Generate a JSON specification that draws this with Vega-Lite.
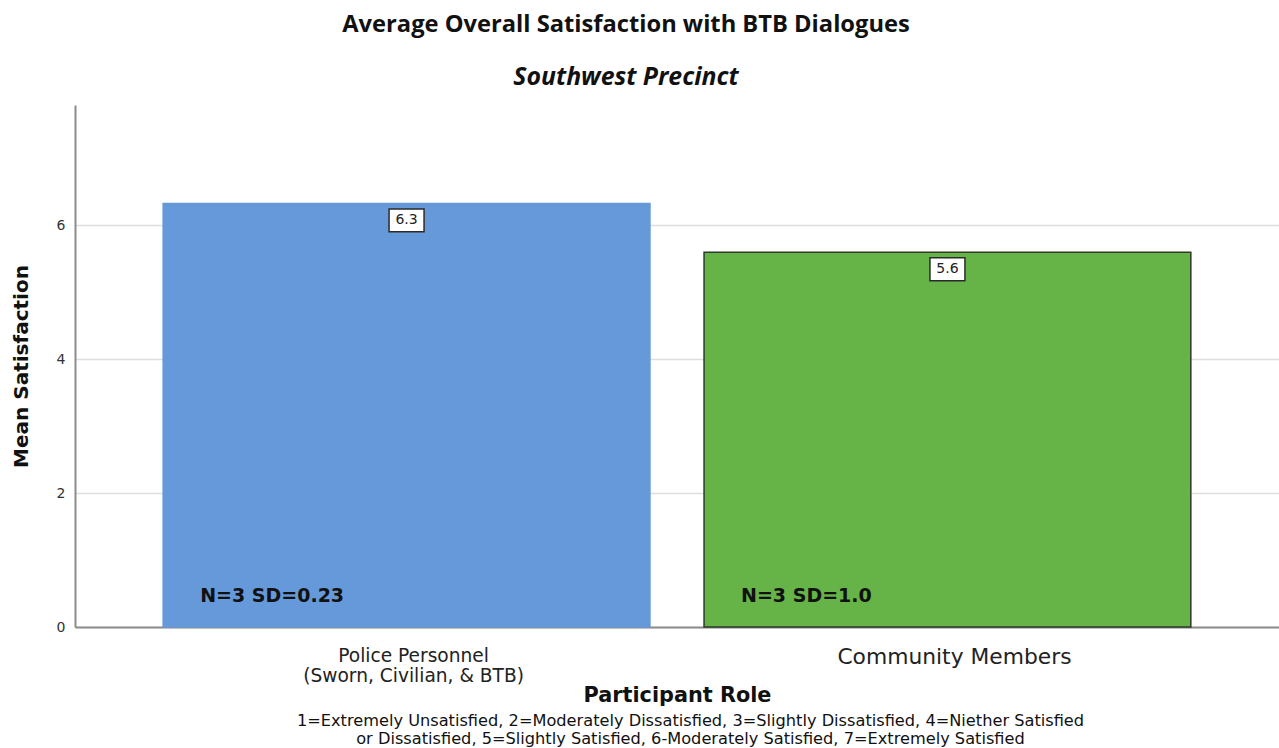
{
  "$schema": "https://vega.github.io/schema/vega-lite/v6.json",
  "width": 1204,
  "height": 522,
  "autosize": "none",
  "padding": {"left": 75, "top": 105, "right": 0, "bottom": 121},
  "background": "white",
  "title": {
    "text": "Average Overall Satisfaction with BTB Dialogues",
    "subtitle": "Southwest Precinct",
    "anchor": "middle",
    "dx": -51,
    "offset": 15,
    "font": "Open Sans",
    "fontSize": 23.7,
    "fontWeight": "bold",
    "color": "#111111",
    "subtitleFont": "Open Sans",
    "subtitleFontSize": 24.8,
    "subtitleFontWeight": "bold",
    "subtitleFontStyle": "italic",
    "subtitleColor": "#111111",
    "subtitlePadding": 29
  },
  "data": {
    "values": [
      {"role": "Police Personnel (Sworn, Civilian, & BTB)", "mean": 6.33, "stats": "N=3 SD=0.23"},
      {"role": "Community Members", "mean": 5.6, "stats": "N=3 SD=1.0"}
    ]
  },
  "resolve": {"axis": {"x": "independent"}},
  "layer": [
    {
      "mark": {"type": "bar", "strokeWidth": 1.5},
      "encoding": {
        "x": {
          "field": "role", "type": "nominal", "sort": null,
          "scale": {"paddingInner": 0.1, "paddingOuter": 0.163},
          "axis": {
            "orient": "bottom",
            "title": "Participant Role",
            "titleFont": "DejaVu Sans",
            "titleFontSize": 20.8,
            "titleFontWeight": "bold",
            "titleColor": "#111111",
            "titlePadding": 1,
            "labelAngle": 0,
            "labelFont": "DejaVu Sans",
            "labelFontSize": {"condition": {"test": "datum.value === 'Community Members'", "value": 21.8}, "value": 18.6},
            "labelColor": "#222222",
            "labelPadding": 19,
            "labelLineHeight": 20,
            "labelLimit": 0,
            "labelOffset": 7,
            "labelExpr": "datum.value === 'Police Personnel (Sworn, Civilian, & BTB)' ? ['Police Personnel', '(Sworn, Civilian, & BTB)'] : datum.value",
            "ticks": false,
            "domainColor": "#8c8c8c",
            "domainWidth": 2,
            "grid": false
          }
        },
        "y": {
          "field": "mean", "type": "quantitative",
          "scale": {"domain": [0, 7.8], "nice": false},
          "axis": {
            "title": "Mean Satisfaction",
            "titleFont": "DejaVu Sans",
            "titleFontSize": 20,
            "titleFontWeight": "bold",
            "titleColor": "#111111",
            "titlePadding": 25,
            "values": [0, 2, 4, 6],
            "format": "d",
            "labelFont": "DejaVu Sans",
            "labelFontSize": 14,
            "labelColor": "#333333",
            "labelPadding": 10,
            "ticks": false,
            "domainColor": "#8c8c8c",
            "domainWidth": 2,
            "gridColor": "#dddddd",
            "gridWidth": 1.5
          }
        },
        "color": {
          "field": "role", "type": "nominal", "sort": null, "legend": null,
          "scale": {"range": ["#6699d9", "#66b447"]}
        },
        "stroke": {
          "field": "role", "type": "nominal", "sort": null, "legend": null,
          "scale": {"range": ["#6699d9", "#2e3a2a"]}
        }
      }
    },
    {
      "mark": {
        "type": "point",
        "shape": "M-1,-0.657H1V0.657H-1Z",
        "size": 1225,
        "filled": true,
        "fill": "white",
        "stroke": "#2a2a2a",
        "strokeWidth": 1.5,
        "opacity": 1,
        "yOffset": 17
      },
      "encoding": {
        "x": {"field": "role", "type": "nominal", "sort": null, "axis": null},
        "y": {"field": "mean", "type": "quantitative"}
      }
    },
    {
      "mark": {"type": "text", "font": "DejaVu Sans", "fontSize": 14, "color": "#222222", "yOffset": 17, "baseline": "middle", "align": "center"},
      "encoding": {
        "x": {"field": "role", "type": "nominal", "sort": null, "axis": null},
        "y": {"field": "mean", "type": "quantitative"},
        "text": {"field": "mean", "type": "quantitative", "format": ".1f"}
      }
    },
    {
      "mark": {"type": "text", "font": "DejaVu Sans", "fontSize": 19, "fontWeight": "bold", "color": "#111111", "align": "left", "baseline": "middle", "dx": 37, "yOffset": -31},
      "encoding": {
        "x": {
          "field": "role", "type": "nominal", "sort": null, "bandPosition": 0,
          "axis": {
            "orient": "bottom",
            "title": ["1=Extremely Unsatisfied, 2=Moderately Dissatisfied, 3=Slightly Dissatisfied, 4=Niether Satisfied", "or Dissatisfied, 5=Slightly Satisfied, 6-Moderately Satisfied, 7=Extremely Satisfied"],
            "titleFont": "DejaVu Sans",
            "titleFontSize": 16.2,
            "titleFontWeight": "normal",
            "titleColor": "#111111",
            "titleLineHeight": 18,
            "titlePadding": 85,
            "titleX": 615,
            "labels": false,
            "ticks": false,
            "domain": false,
            "grid": false
          }
        },
        "y": {"datum": 0, "type": "quantitative"},
        "text": {"field": "stats", "type": "nominal"}
      }
    }
  ],
  "config": {"view": {"stroke": null}}
}
